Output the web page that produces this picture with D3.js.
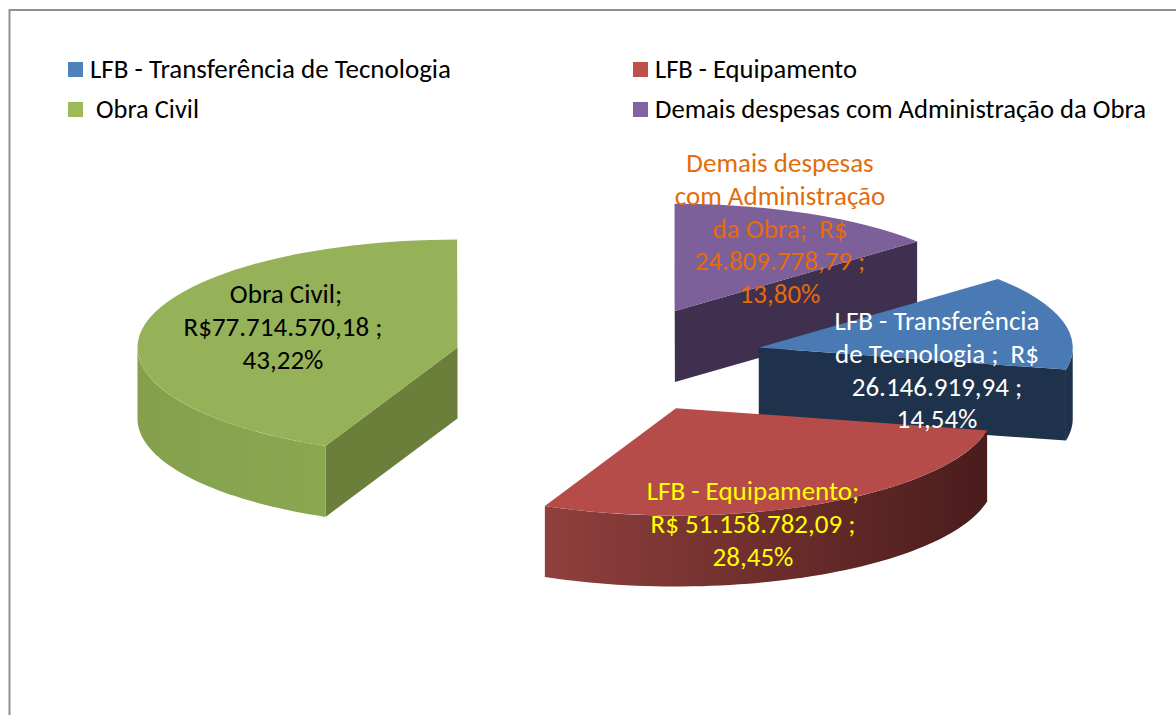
<!DOCTYPE html>
<html><head><meta charset="utf-8">
<script src="https://cdn.jsdelivr.net/npm/d3@7"></script>
<style>html,body{margin:0;padding:0;background:#fff}svg{display:block}text{font-family:Carlito,Lato,sans-serif}</style>
</head><body><svg id="c" width="1176" height="715"></svg>
<script>
// Data
const categories = ["LFB - Transferência de Tecnologia","LFB - Equipamento","Obra Civil","Demais despesas com Administração da Obra"];
const values = [26146919.94, 51158782.09, 77714570.18, 24809778.79];
const labelLines = [
  ["LFB - Transferência","de Tecnologia ;  R$","26.146.919,94 ;","14,54%"],
  ["LFB - Equipamento;","R$ 51.158.782,09 ;","28,45%"],
  [" Obra Civil;","R$77.714.570,18 ;","43,22%"],
  ["Demais despesas","com Administração","da Obra;  R$","24.809.778,79 ;","13,80%"]
];
// Styles
const topColors  = ["#4a7ab4","#b54c49","#95b258","#7d5f9a"];
const sideColors = ["#1e324b","#6b2c2a","#6b7f3b","#3f3050"];
const rimFrom    = ["#1e324b","#4a1c1c","#8aa850","#3f3050"];
const rimTo      = ["#1e324b","#90403d","#84a04c","#3f3050"];
const legendColors = ["#4f81bd","#c0504d","#9bbb59","#8064a2"];
const labelColors = ["#ffffff","#ffff00","#000000","#e46c0a"];
const labelCx = [937,753,283,780];
const labelCy = [321,491,294,163];
const lineGap = 32.6;
const drawOrder = [3,0,2,1];
const nudge = [[0.5,2],[-2,3],[1,0],[2,0]];
const radii = [314,318,320,318];
const legendItems = [
  {i:0,sx:68,tx:90,y:68.5,w:361},{i:1,sx:633,tx:655,y:68.5,w:202},
  {i:2,sx:68,tx:96,y:108.5,w:103},{i:3,sx:633,tx:655,y:108.5,w:491}
];
// Geometry
const W=1176,H=715, base={x:608,y:358.5}, tilt=108/320, depth=71, explode=155;
const fontSize=27;

const svg=d3.select("#c");
svg.append("path").attr("d",`M${W},10H9.5V${H}`).attr("fill","none").attr("stroke","#8f8f8f").attr("stroke-width",2);

const defs=svg.append("defs");
const pie=d3.pie().sort(null).value(d=>d).startAngle(49.6*Math.PI/180).endAngle((360+49.6)*Math.PI/180);
const arcs=pie(values);
const pt=(c,a,r)=>[c.x+r*Math.sin(a),c.y-r*tilt*Math.cos(a)];

drawOrder.forEach(i=>{
  const d=arcs[i], mid=(d.startAngle+d.endAngle)/2, rx=radii[i];
  const [ox,oy]=pt(base,mid,explode);
  const c={x:ox+nudge[i][0],y:oy+nudge[i][1]};
  const g=svg.append("g");
  const a0=d.startAngle,a1=d.endAngle;
  // flat cut faces that turn towards the viewer
  const face=(a)=>{
    const P=pt(c,a,rx);
    g.append("path").attr("d",`M${c.x},${c.y}L${P[0]},${P[1]}L${P[0]},${P[1]+depth}L${c.x},${c.y+depth}Z`)
     .attr("fill",sideColors[i]);
  };
  if(Math.sin(a0)<-1e-6) face(a0);
  if(Math.sin(a1)>1e-6) face(a1);
  // outer rim: front half of the ellipse within this slice
  const lo=Math.max(a0,Math.PI/2), hi=Math.min(a1,Math.PI*1.5);
  if(hi>lo){
    const steps=d3.range(0,61).map(k=>lo+(hi-lo)*k/60);
    const tops=steps.map(a=>pt(c,a,rx));
    const bots=steps.slice().reverse().map(a=>{const p=pt(c,a,rx);return [p[0],p[1]+depth];});
    const gid="rim"+i;
    const xs=tops.map(p=>p[0]);
    const lg=defs.append("linearGradient").attr("id",gid).attr("gradientUnits","userSpaceOnUse")
      .attr("x1",d3.max(xs)).attr("x2",d3.min(xs)).attr("y1",0).attr("y2",0);
    lg.append("stop").attr("offset",0).attr("stop-color",rimFrom[i]);
    lg.append("stop").attr("offset",1).attr("stop-color",rimTo[i]);
    g.append("path").attr("d",d3.line()(tops.concat(bots))+"Z").attr("fill",`url(#${gid})`);
  }
  // top surface
  g.append("path").attr("transform",`translate(${c.x},${c.y}) scale(1,${tilt})`)
    .attr("d",d3.arc().innerRadius(0).outerRadius(rx)(d)).attr("fill",topColors[i]);
});

// Data labels
labelLines.forEach((lines,i)=>{
  lines.forEach((t,k)=>{
    svg.append("text").attr("x",labelCx[i]).attr("y",labelCy[i]+k*lineGap)
      .attr("dy","0.35em").attr("text-anchor","middle").attr("font-size",fontSize)
      .attr("fill",labelColors[i]).style("white-space","pre").text(t);
  });
});
// Legend
legendItems.forEach(o=>{
  const row=Math.round(o.y);
  svg.append("rect").attr("x",o.sx).attr("y",row-7).attr("width",15).attr("height",15).attr("fill",legendColors[o.i]);
  svg.append("text").attr("x",o.tx).attr("y",o.y).attr("dy","0.35em").attr("font-size",fontSize).attr("fill","#000")
    .attr("textLength",o.w).attr("lengthAdjust","spacingAndGlyphs").text(categories[o.i]);
});
</script></body></html>
